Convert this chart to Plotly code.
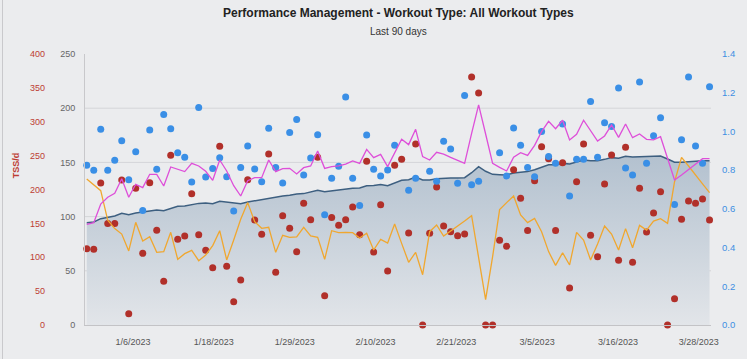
import pandas as pd
import plotly.graph_objects as go

start_date = "2022-12-30"
n_days = 90
dates = pd.date_range(start_date, periods=n_days, freq="D")

# Fitness (CTL)
ctl = [94.4, 95, 98.1, 99.6, 100.6, 103, 101.8, 103.3, 104.2, 105.5,
       106.1, 105.5, 107.6, 109.5, 109.8, 111, 112.2, 112.5, 111.9, 114.1,
       113.5, 112.5, 111.9, 113.5, 114.7, 115.3, 117.2, 117.8, 119, 119.6,
       120.8, 121.2, 122.4, 124.2, 123, 123.9, 124.5, 125.2, 126.1, 126.4,
       128.5, 128.8, 129.5, 128.5, 131, 133.5, 134.1, 136.5, 133.8, 133.8,
       135, 135.6, 135.6, 135.6, 135.9, 140.5, 146.1, 141.8, 139, 138.7,
       138.4, 140.2, 140.8, 141.5, 143.3, 145.4, 147.9, 147.9, 149.1, 148.5,
       150.1, 152.2, 151.6, 151.6, 152.8, 154.4, 153.8, 155.6, 155, 155.3,
       155.3, 155.6, 155.9, 153.1, 150.1, 150.1, 150.7, 151, 151.6, 151.6]

# Fatigue (ATL)
atl = [92.9, 94.4, 111.6, 117.8, 121.5, 135, 117.8, 129.8, 126.7, 139,
       139, 128.2, 145.8, 143.3, 141.5, 149.1, 146.7, 141.8, 133.5, 152.2,
       142.1, 128.5, 119, 133.1, 135.9, 135.9, 152.2, 141.5, 144.2, 144.5,
       139.3, 145.1, 146.7, 160.5, 144.5, 146.1, 146.7, 148.5, 151.3, 149.1,
       162, 154.4, 157.4, 146.1, 158.4, 171.3, 166.4, 180.5, 155.3, 152.2,
       159.3, 157.7, 154.7, 151.9, 149.1, 176.8, 203, 176.2, 149.1, 145.4,
       142.1, 154.7, 159, 156.5, 165.7, 178.4, 187.9, 181.1, 188.9, 170.7,
       175.9, 188.9, 179.3, 169.7, 174.4, 184.5, 173.1, 185.4, 172.8, 176.2,
       171.3, 170.7, 173.7, 153.8, 133.8, 138.4, 143.6, 148.5, 153.4, 153.4]

# Form (TSB)
tsb = [134.7, 129.2, 123.9, 96.6, 88.9, 83.9, 68.3, 94.7, 77.5, 81.5,
       67, 67.7, 85.5, 60.6, 65.8, 68.9, 59.3, 64.6, 73.2, 87,
       60, 78.4, 97.5, 112.9, 95.3, 89.2, 90.1, 67, 82.7, 80.9,
       81.2, 90.1, 82.1, 80.9, 60.6, 87, 85.2, 85.5, 85.2, 80.3,
       84.6, 69.2, 79, 75.6, 93.2, 75.3, 57.8, 67, 46.4, 86.1,
       92.3, 82.1, 86.7, 90.7, 95.9, 100.9, 63, 23.4, 63, 106.4,
       112.9, 119, 101.5, 94.4, 98.4, 86.1, 67.7, 55, 66.7, 55.4,
       85.5, 78.4, 60, 74.7, 91.3, 83.9, 69.2, 88.9, 71.3, 91.9,
       87.6, 95.9, 98.1, 93.8, 132.2, 154.7, 146.7, 138.1, 130.1, 122.1]

# Daily TSS
tss = [112.7, 111.7, 209.6, 150, 150, 214, 16.7, 201.7, 105.8, 210,
       140, 64.5, 250.4, 126.4, 131.4, 193.8, 133.3, 110.2, 84.6, 263.7,
       86.6, 34.4, 66.4, 214.5, 155, 133.8, 252.4, 77.7, 161.4, 142.7,
       108.2, 179.6, 155.5, 247.5, 43.3, 158.5, 147.1, 155.5, 174.2, 133.3,
       241.6, 107.7, 177.6, 79.7, 235.7, 244.5, 135.8, 267.2, 0, 135.3,
       203.7, 146.1, 137.8, 131.9, 134.3, 366, 342.4, 0, 0, 125,
       116.1, 229.3, 187, 139.3, 213, 263.2, 245.5, 139.3, 239.6, 54.6,
       211.6, 267.2, 132.4, 100.9, 208.1, 250.9, 95.4, 262.3, 92.5, 201.7,
       137.3, 165.3, 196.8, 0, 38.9, 156, 183, 179.6, 186, 155]

# Intensity Factor
intensity = [0.825, 0.80, 1.011, 0.80, 0.851, 0.952, 0.75, 0.895, 0.592, 1.007,
             0.804, 1.088, 1.014, 0.89, 0.866, 0.739, 1.123, 0.765, 0.808, 0.864,
             0.766, 0.589, 0.814, 0.925, 0.806, 0.740, 1.016, 0.814, 0.734, 0.994,
             1.062, 0.775, 0.863, 0.983, 0.570, 0.758, 0.820, 1.178, 0.758, 0.617,
             0.982, 0.804, 0.770, 0.801, 0.928, None, 0.696, 0.758, None, 0.794,
             0.742, 0.949, 0.909, 0.732, 1.185, 0.725, 0.742, None, None, 0.890,
             0.770, 1.018, 0.928, 0.814, 0.766, 1.0, 0.870, 0.835, 1.038, 0.666,
             0.856, 0.856, 1.155, 0.866, 1.045, 1.026, 1.224, 0.811, 0.775, 1.255,
             0.835, 0.978, 1.071, None, 0.623, 0.957, 1.281, 0.925, 0.835, 1.231]

x_tick_labels = ["1/6/2023", "1/18/2023", "1/29/2023", "2/10/2023",
                 "2/21/2023", "3/5/2023", "3/16/2023", "3/28/2023"]
gray_ticks = [0, 50, 100, 150, 200, 250]
red_ticks = [0, 50, 100, 150, 200, 250, 300, 350, 400]
blue_ticks = [0, 0.2, 0.4, 0.6, 0.8, 1.0, 1.2, 1.4]

t0 = pd.Timestamp(start_date)
tick_pos = [t0 + pd.Timedelta(days=6.61 + 11.55 * k) for k in range(len(x_tick_labels))]
x_range = [t0 - pd.Timedelta(hours=6), t0 + pd.Timedelta(days=89, hours=5)]

FONT = "Liberation Sans, Arial, Helvetica, sans-serif"
BG = "#ebecee"

fig = go.Figure()
fig.add_trace(go.Scatter(
    x=dates, y=ctl, mode="lines", yaxis="y",
    line=dict(color="#3d5f80", width=1.5),
    fill="tozeroy",
    fillgradient=dict(type="vertical",
                      colorscale=[[0, "#e2e5e9"], [1, "#b3c1cf"]]),
    hoverinfo="skip", showlegend=False))
fig.add_trace(go.Scatter(
    x=dates, y=tss, mode="markers", yaxis="y2", cliponaxis=False,
    marker=dict(color="#b1302a", size=7), showlegend=False))
fig.add_trace(go.Scatter(
    x=dates, y=intensity, mode="markers", yaxis="y3", cliponaxis=False,
    marker=dict(color="#3a8fe6", size=7), showlegend=False))
fig.add_trace(go.Scatter(
    x=dates, y=tsb, mode="lines", yaxis="y4",
    line=dict(color="#f0a72f", width=1.3), showlegend=False))
fig.add_trace(go.Scatter(
    x=dates, y=atl, mode="lines", yaxis="y4",
    line=dict(color="#de4fd9", width=1.3), showlegend=False))

grid_shapes = [dict(type="line", xref="paper", yref="y", x0=0, x1=1, y0=v, y1=v,
                    line=dict(color="#d4d5d8", width=1), layer="below")
               for v in gray_ticks[1:-1]]
grid_shapes.append(dict(type="line", xref="paper", yref="paper",
                        x0=-0.1318, x1=-0.1318, y0=-0.2, y1=1.3,
                        line=dict(color="#c9c9cc", width=1)))

fig.update_layout(
    width=747, height=359,
    margin=dict(l=85, r=36, t=54, b=33),
    paper_bgcolor=BG, plot_bgcolor=BG,
    font=dict(family=FONT, size=9, color="#555555"),
    showlegend=False,
    shapes=grid_shapes,
    xaxis=dict(type="date", range=x_range, tickvals=tick_pos, ticktext=x_tick_labels,
               showgrid=False, zeroline=False, showline=True, linecolor="#c3c3c6",
               linewidth=1, ticks="", ticklabelstandoff=8,
               tickfont=dict(size=9, color="#555555")),
    yaxis=dict(range=[0, 250], tickvals=gray_ticks, showgrid=False, zeroline=False,
               showline=True, linecolor="#c8c8cb", ticks="", ticklabelstandoff=7,
               tickfont=dict(size=9, color="#666666")),
    yaxis2=dict(range=[0, 400], tickvals=red_ticks, overlaying="y", anchor="free",
                position=0, autoshift=False, shift=-40, side="left",
                showgrid=False, zeroline=False, showline=False, ticks="",
                ticklabelstandoff=0, tickfont=dict(size=9, color="#bd3d33")),
    yaxis3=dict(range=[0, 1.4], tickvals=blue_ticks, tickformat=".1f", overlaying="y",
                side="right", anchor="x", showgrid=False, zeroline=False,
                showline=False, ticks="", ticklabelstandoff=10,
                tickfont=dict(size=9.5, color="#3d8fe2")),
    yaxis4=dict(range=[0, 250], overlaying="y", visible=False),
    annotations=[
        dict(text="<b>Performance Management - Workout Type: All Workout Types</b>",
             xref="paper", yref="paper", x=0.5, y=(325.5 - 12.5) / 271.5,
             xanchor="center", yanchor="middle", showarrow=False,
             font=dict(size=12, color="#222222")),
        dict(text="Last 90 days", xref="paper", yref="paper",
             x=0.5, y=(325.5 - 31) / 271.5,
             xanchor="center", yanchor="middle", showarrow=False,
             font=dict(size=10, color="#333333")),
        dict(text="<b>TSS/d</b>", xref="paper", yref="paper",
             x=(15.5 - 85) / 626, y=(325.5 - 166) / 271.5, textangle=-90,
             xanchor="center", yanchor="middle", showarrow=False,
             font=dict(size=9, color="#bd3d33")),
    ],
)

fig.write_html("out.html", config={"displayModeBar": False},
               post_script="document.body.style.margin='0';document.body.style.background='%s';" % BG)
